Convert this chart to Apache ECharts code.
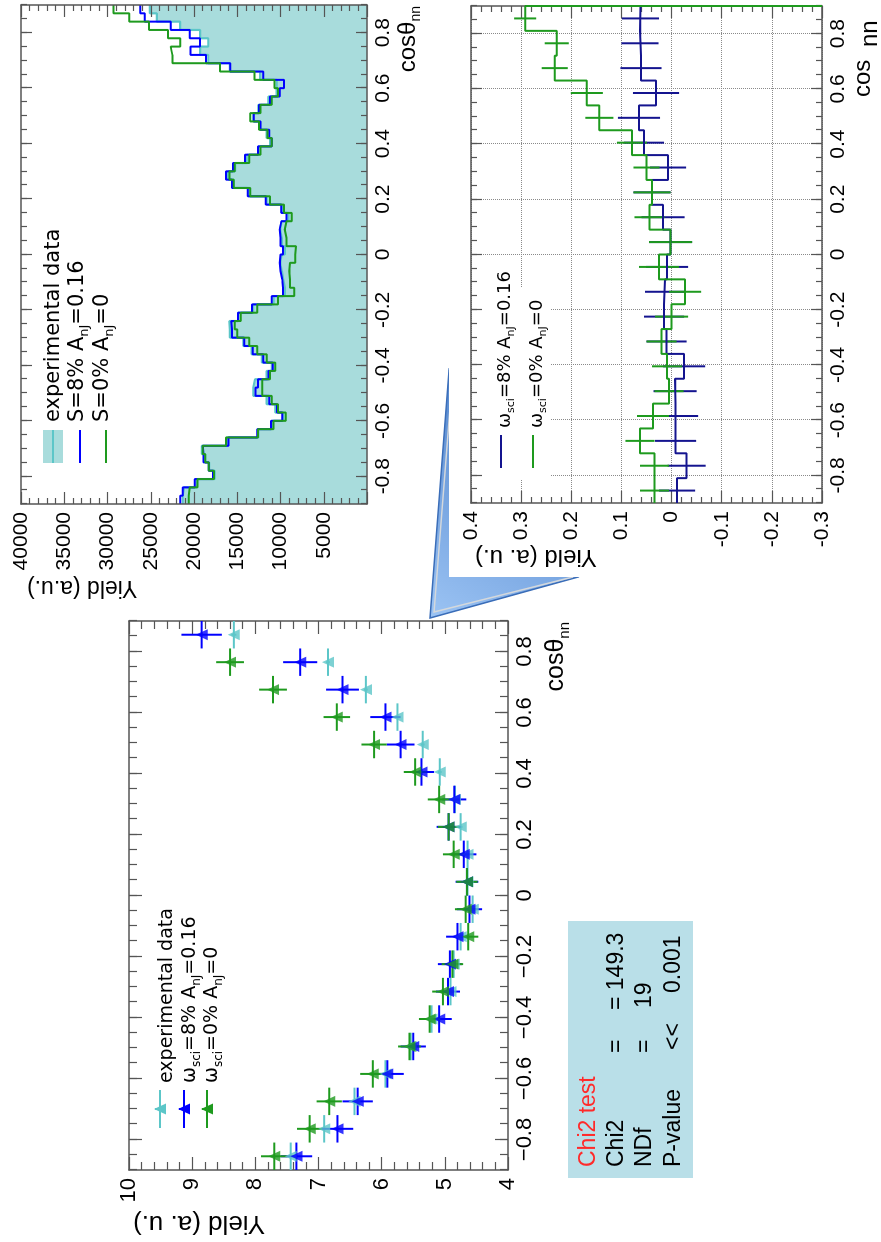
<!DOCTYPE html>
<html><head><meta charset="utf-8">
<script src="https://cdn.jsdelivr.net/npm/echarts@6/dist/echarts.min.js"></script>
<style>
html,body{margin:0;padding:0;background:#fff;overflow:hidden;width:881px;height:1242px;}
#wrap{position:absolute;left:0;top:0;width:1242px;height:881px;transform-origin:0 0;transform:translate(0,1242px) rotate(-90deg);}
#chart{width:1242px;height:881px;}
</style></head><body>
<div id="wrap"><div id="chart"></div></div>
<script>
// ---------- data ----------
const cosMajor = [-0.8, -0.6, -0.4, -0.2, 0, 0.2, 0.4, 0.6, 0.8];
const binCenters20 = [-0.855,-0.765,-0.675,-0.585,-0.495,-0.405,-0.315,-0.225,-0.135,-0.045,0.045,0.135,0.225,0.315,0.405,0.495,0.585,0.675,0.765,0.855];
// left panel: yields (a. u.)
const expYield  = [7.44,6.91,6.43,5.94,5.54,5.21,4.91,4.86,4.75,4.56,4.64,4.64,4.75,4.84,5.08,5.35,5.75,6.25,6.85,8.34];
const expErr    = [0.03,0.03,0.03,0.03,0.03,0.03,0.03,0.03,0.03,0.03,0.03,0.03,0.03,0.03,0.03,0.03,0.03,0.03,0.03,0.04];
const sci8Yield = [7.35,6.70,6.38,5.91,5.50,5.09,4.95,4.92,4.80,4.61,4.65,4.70,4.94,4.85,5.37,5.70,5.94,6.62,7.29,8.85];
const sci8Err   = [0.25,0.25,0.24,0.26,0.20,0.20,0.19,0.19,0.18,0.20,0.18,0.20,0.19,0.19,0.20,0.22,0.24,0.26,0.27,0.32];
const sci0Yield = [7.70,7.14,6.83,6.14,5.56,5.24,5.03,4.88,4.63,4.67,4.65,4.86,4.94,5.09,5.47,6.12,6.71,7.72,8.40,10.77];
const sci0Err   = [0.21,0.20,0.20,0.20,0.18,0.17,0.17,0.17,0.16,0.17,0.17,0.17,0.17,0.18,0.18,0.20,0.21,0.22,0.22,0.26];
// difference panel
const dSci8    = [-0.011,-0.030,-0.008,-0.008,-0.007,-0.025,0.010,0.015,0.013,0.009,0.002,0.017,0.039,0.007,0.055,0.065,0.031,0.061,0.063,0.062];
const dSci8Err = [0.036,0.038,0.041,0.045,0.043,0.042,0.040,0.040,0.040,0.042,0.043,0.043,0.037,0.036,0.040,0.042,0.046,0.041,0.037,0.037];
const dSci0    = [0.034,0.034,0.063,0.037,0.005,0.009,0.020,0.000,-0.027,0.025,0.002,0.044,0.039,0.050,0.079,0.144,0.169,0.233,0.229,0.292];
const dSci0Err = [0.029,0.029,0.029,0.032,0.029,0.030,0.030,0.033,0.032,0.040,0.043,0.030,0.037,0.026,0.030,0.028,0.032,0.026,0.024,0.022];
// fine spectrum panel (60 bins, -0.9..0.9)
const histExp = [21300,21150,19700,17600,18250,18700,19100,16200,12550,11000,
                 9700,10600,11600,13150,12950,11600,11000,12150,13350,14300,
                 15850,15900,14900,13150,10800,9500,9700,9850,10050,9850,
                 9500,9850,10050,9850,9100,9850,11600,13700,15450,16050,
                 15250,13900,12550,11200,11600,12350,13150,12550,11400,10450,
                 10450,12350,15850,18350,19300,18350,19300,21600,24300,25100];
const histS8  = [21600,21300,19900,17800,18300,18900,19000,16000,12700,11100,
                 9800,10400,11300,12900,12600,11400,10900,12000,13200,14200,
                 15600,15700,14900,13300,11000,9700,9800,10000,10100,10000,
                 9700,10000,10100,9900,9300,9900,11700,13800,15600,16300,
                 15500,14100,12600,11000,11300,12300,13100,12500,11200,10100,
                 9600,12000,15800,18600,20400,19300,20500,22700,25700,26200];
const histS0  = [20600,20500,19600,17700,18300,18700,19000,16300,12600,10800,
                 9400,10300,11000,12100,12100,11200,10600,11600,12700,13600,
                 15000,15300,14600,12700,10300,8400,8900,9000,8900,8300,
                 8200,9300,9500,9300,8700,9600,11200,13500,15400,15900,
                 15300,13600,12300,11000,11500,12500,13500,12300,11000,10300,
                 10700,13000,17000,22500,22700,21600,23000,25200,27500,29300];
const chi2Rows = [["Chi2", "=", "= 149.3"], ["NDf", "=", "19"], ["P-value", "<<", "0.001"]];

// ---------- helpers ----------
const COS_MIN = -0.9, COS_MAX = 0.9, DIFF_MIN = -0.3, DIFF_MAX = 0.4;
const edges20 = Array.from({length: 21}, (_, i) => +(COS_MIN + 0.09 * i).toFixed(3));
const edges60 = Array.from({length: 61}, (_, i) => +(COS_MIN + 0.03 * i).toFixed(3));
function stepData(edges, vals, tail) {
  const d = vals.map((v, i) => [edges[i], v]);
  d.push([edges[edges.length - 1], vals[vals.length - 1]]);
  if (tail !== undefined) d.push([edges[edges.length - 1], tail]);
  return d;
}
const FONT = "'Liberation Sans', Arial, sans-serif";
const LEG = "'DejaVu Sans', sans-serif";
const AXC = '#555';
const C_EXP = '#5cc6c8', C_EXP_FILL = '#a8dcdc', C_BLUE = '#0000ff', C_GREEN = '#1e9a1e', C_NAVY = '#14148f';

function cosAxisSet(gi, o) {
  const line = {show: true, onZero: false, lineStyle: {color: AXC, width: 1.5}};
  const ts = {color: AXC, width: 1.2};
  const common = {type: 'value', gridIndex: gi, min: COS_MIN, max: COS_MAX, z: o.z || 0};
  return [
    Object.assign({}, common, {position: 'bottom', axisLine: line,
      axisTick: {show: true, inside: true, length: o.maj, customValues: cosMajor, lineStyle: ts},
      axisLabel: {show: true, customValues: cosMajor, margin: o.margin, fontSize: o.fs, fontFamily: FONT, color: '#000', formatter: o.fmt},
      splitLine: o.grid ? {show: true, lineStyle: {color: '#8a8a8a', type: 'dotted', width: 1}} : {show: false}}),
    Object.assign({}, common, {position: 'bottom', interval: 0.05, axisLine: {show: false, onZero: false},
      axisTick: {show: true, inside: true, length: o.min, lineStyle: ts}, axisLabel: {show: false}, splitLine: {show: false}}),
    Object.assign({}, common, {position: 'top', axisLine: line,
      axisTick: {show: true, inside: true, length: o.maj, customValues: cosMajor, lineStyle: ts}, axisLabel: {show: false}, splitLine: {show: false}}),
    Object.assign({}, common, {position: 'top', interval: 0.05, axisLine: {show: false, onZero: false},
      axisTick: {show: true, inside: true, length: o.min, lineStyle: ts}, axisLabel: {show: false}, splitLine: {show: false}})
  ];
}
function yAxisSet(gi, o) {
  const line = {show: true, onZero: false, lineStyle: {color: AXC, width: 1.5}};
  const ts = {color: AXC, width: 1.2};
  const common = {type: 'value', gridIndex: gi, min: o.lo, max: o.hi, interval: o.interval, z: o.z || 0, axisLine: line,
    axisTick: {show: true, inside: true, length: o.maj, lineStyle: ts},
    minorTick: {show: true, splitNumber: 5, length: o.min, lineStyle: ts}};
  return [
    Object.assign({}, common, {position: 'left',
      axisLabel: {show: true, margin: o.margin, fontSize: o.fs, fontFamily: FONT, color: '#000', showMinLabel: o.showMin, showMaxLabel: true, formatter: o.fmt},
      splitLine: o.grid ? {show: true, lineStyle: {color: '#8a8a8a', type: 'dotted', width: 1}} : {show: false}}),
    Object.assign({}, common, {position: 'right', axisLabel: {show: false}, splitLine: {show: false}})
  ];
}
function errSeries(name, xi, yi, centers, vals, errs, halfW, color, lw) {
  return {
    type: 'custom', name: name, xAxisIndex: xi, yAxisIndex: yi, clip: true, z: 3,
    data: centers.map((c, i) => [c, vals[i], errs[i]]),
    renderItem: function (params, api) {
      const x = api.value(0), y = api.value(1), e = api.value(2);
      const ch = [];
      if (halfW > 0) {
        const a = api.coord([x - halfW, y]), b = api.coord([x + halfW, y]);
        ch.push({type: 'line', shape: {x1: a[0], y1: a[1], x2: b[0], y2: b[1]}, style: {stroke: color, lineWidth: lw}});
      }
      const c = api.coord([x, y - e]), d = api.coord([x, y + e]);
      ch.push({type: 'line', shape: {x1: c[0], y1: c[1], x2: d[0], y2: d[1]}, style: {stroke: color, lineWidth: lw}});
      return {type: 'group', children: ch};
    }
  };
}
function markerSeries(name, centers, vals, color) {
  return {type: 'scatter', name: name, xAxisIndex: 0, yAxisIndex: 0, clip: true, z: 4,
    data: centers.map((c, i) => [c, vals[i]]), symbol: 'triangle', symbolSize: [11, 12], itemStyle: {color: color}};
}
const minusFmt = v => String(v).replace('-', '\u2212');
const plainFmt = v => String(v);
function richText(fs, sub) {
  return {
    n: {fontSize: fs, fontFamily: LEG, fill: '#000', color: '#000', lineHeight: Math.round(fs * 1.3), verticalAlign: 'middle'},
    s: {fontSize: sub, fontFamily: LEG, fill: '#000', color: '#000', lineHeight: sub, verticalAlign: 'bottom'}
  };
}
function txt(x, y, text, fs, extra) {
  return Object.assign({type: 'text', x: x, y: y, z: 20,
    style: Object.assign({text: text, fontSize: fs, fontFamily: FONT, fill: '#000', align: 'left', verticalAlign: 'middle'}, (extra && extra.style) || {})},
    extra && extra.rotation ? {rotation: extra.rotation} : {});
}

// ---------- layout (unrotated frame, 1242 x 881) ----------
const grids = [
  {left: 72, top: 129, width: 549, height: 379},   // main points panel
  {left: 738, top: 21, width: 499, height: 346},   // fine spectrum
  {left: 739, top: 471, width: 497, height: 351}   // difference
];

const xAxes = [].concat(
  cosAxisSet(0, {maj: 13, min: 8, margin: 6, fs: 22, fmt: minusFmt}),
  cosAxisSet(1, {maj: 11, min: 6, margin: 6, fs: 21, z: 5, fmt: plainFmt}),
  cosAxisSet(2, {maj: 11, min: 6, margin: 6, fs: 21, grid: true, fmt: plainFmt})
);
const yAxes = [].concat(
  yAxisSet(0, {lo: 4, hi: 10, interval: 1, maj: 13, min: 8, margin: 8, fs: 22, showMin: true, fmt: plainFmt}),
  yAxisSet(1, {lo: 0, hi: 40000, interval: 5000, maj: 12, min: 6, margin: 8, fs: 21, showMin: false, z: 5, fmt: plainFmt}),
  yAxisSet(2, {lo: DIFF_MIN, hi: DIFF_MAX, interval: 0.1, maj: 12, min: 6, margin: 8, fs: 21, showMin: true, grid: true, fmt: plainFmt})
);

const series = [
  // main panel
  errSeries('exp err', 0, 0, binCenters20, expYield, expErr, 0.045, C_EXP, 2),
  errSeries('sci8 err', 0, 0, binCenters20, sci8Yield, sci8Err, 0.045, C_BLUE, 2),
  errSeries('sci0 err', 0, 0, binCenters20, sci0Yield, sci0Err, 0.045, C_GREEN, 2),
  markerSeries('experimental data', binCenters20, expYield, C_EXP),
  markerSeries('sci=8%', binCenters20, sci8Yield, C_BLUE),
  markerSeries('sci=0%', binCenters20, sci0Yield, C_GREEN),
  // fine spectrum
  {type: 'line', name: 'exp hist', xAxisIndex: 4, yAxisIndex: 2, step: 'end', symbol: 'none', z: 2,
   data: stepData(edges60, histExp), lineStyle: {color: C_EXP, width: 2.2}, areaStyle: {color: C_EXP_FILL, opacity: 1, origin: 'start'}},
  {type: 'line', name: 'S8 hist', xAxisIndex: 4, yAxisIndex: 2, step: 'end', symbol: 'none', z: 3,
   data: stepData(edges60, histS8), lineStyle: {color: C_BLUE, width: 2}},
  {type: 'line', name: 'S0 hist', xAxisIndex: 4, yAxisIndex: 2, step: 'end', symbol: 'none', z: 4,
   data: stepData(edges60, histS0), lineStyle: {color: C_GREEN, width: 2}},
  // difference
  {type: 'line', name: 'd8', xAxisIndex: 8, yAxisIndex: 4, step: 'end', symbol: 'none', z: 3,
   data: stepData(edges20, dSci8), lineStyle: {color: C_NAVY, width: 2}},
  {type: 'line', name: 'd0', xAxisIndex: 8, yAxisIndex: 4, step: 'end', symbol: 'none', z: 4,
   data: stepData(edges20, dSci0, DIFF_MIN), lineStyle: {color: C_GREEN, width: 2}},
  errSeries('d8 err', 8, 4, binCenters20, dSci8, dSci8Err, 0, C_NAVY, 2),
  errSeries('d0 err', 8, 4, binCenters20, dSci0, dSci0Err, 0, C_GREEN, 2)
];

// ---------- graphics: callout, panels, legends, titles ----------
const graphics = [];
// callout arrow (beneath the white inset panel)
graphics.push({type: 'polygon', z: -20, shape: {points: [[624, 430], [872, 449], [665, 578]]},
  style: {fill: new echarts.graphic.LinearGradient(0, 0, 1, 1, [{offset: 0, color: '#9cc4f4'}, {offset: 1, color: '#3e74c2'}]), stroke: '#3a6db8', lineWidth: 1.5}});
graphics.push({type: 'polyline', z: -19, shape: {points: [[872, 453], [630, 434], [665, 573]]},
  style: {stroke: '#d4d8dc', lineWidth: 1.5, fill: null}});
graphics.push({type: 'rect', z: -10, shape: {x: 665, y: 449, width: 577, height: 432}, style: {fill: '#ffffff'}});
// legend background in difference panel
graphics.push({type: 'rect', z: 1, shape: {x: 762, y: 483, width: 193, height: 67}, style: {fill: '#ffffff'}});
// chi2 box
graphics.push({type: 'rect', z: 1, shape: {x: 64, y: 568, width: 257, height: 125}, style: {fill: '#b9dfe8'}});
graphics.push(txt(75, 589, 'Chi2 test', 23, {style: {fill: '#ff2a2a'}}));
const chiV = [617, 645, 674], chiCol = [[75, 189, 232], [75, 189, 234], [75, 192, 249]];
chi2Rows.forEach((r, i) => r.forEach((t, j) => graphics.push(txt(chiCol[i][j], chiV[i], t, 23))));

// main panel legend
const legMain = [
  {v: 160, tv: 167, color: C_EXP, text: '{n|experimental data}'},
  {v: 184, tv: 190, color: C_BLUE, text: '{n|\u03c9}{s|sci}{n|=8% A}{s|nJ}{n|=0.16}'},
  {v: 207, tv: 212, color: C_GREEN, text: '{n|\u03c9}{s|sci}{n|=0% A}{s|nJ}{n|=0}'}
];
legMain.forEach(r => {
  graphics.push({type: 'line', z: 20, shape: {x1: 114, y1: r.v, x2: 152, y2: r.v}, style: {stroke: r.color, lineWidth: 2}});
  graphics.push({type: 'line', z: 20, shape: {x1: 133, y1: r.v - 5, x2: 133, y2: r.v + 5}, style: {stroke: r.color, lineWidth: 2}});
  graphics.push({type: 'polygon', z: 21, shape: {points: [[133, r.v - 6], [127.5, r.v + 6], [138.5, r.v + 6]]}, style: {fill: r.color}});
  graphics.push({type: 'text', x: 159, y: r.tv, z: 20, style: {text: r.text, rich: richText(19, 12), verticalAlign: 'middle', align: 'left'}});
});
// fine spectrum legend
graphics.push({type: 'rect', z: 20, shape: {x: 779, y: 43, width: 33, height: 20}, style: {fill: C_EXP_FILL}});
graphics.push({type: 'line', z: 21, shape: {x1: 779, y1: 53, x2: 812, y2: 53}, style: {stroke: C_EXP, lineWidth: 2}});
graphics.push({type: 'line', z: 20, shape: {x1: 779, y1: 80, x2: 812, y2: 80}, style: {stroke: C_BLUE, lineWidth: 2}});
graphics.push({type: 'line', z: 20, shape: {x1: 779, y1: 106, x2: 812, y2: 106}, style: {stroke: C_GREEN, lineWidth: 2}});
[[54, '{n|experimental data}'], [78, '{n|S=8% A}{s|nJ}{n|=0.16}'], [103, '{n|S=0% A}{s|nJ}{n|=0}']].forEach(r => {
  graphics.push({type: 'text', x: 820, y: r[0], z: 20, style: {text: r[1], rich: richText(21, 13), verticalAlign: 'middle', align: 'left'}});
});
// difference legend
graphics.push({type: 'line', z: 20, shape: {x1: 774, y1: 501, x2: 807, y2: 501}, style: {stroke: C_NAVY, lineWidth: 2}});
graphics.push({type: 'line', z: 20, shape: {x1: 774, y1: 533, x2: 807, y2: 533}, style: {stroke: C_GREEN, lineWidth: 2}});
[[505, '{n|\u03c9}{s|sci}{n|=8% A}{s|nJ}{n|=0.16}'], [537, '{n|\u03c9}{s|sci}{n|=0% A}{s|nJ}{n|=0}']].forEach(r => {
  graphics.push({type: 'text', x: 814, y: r[0], z: 20, style: {text: r[1], rich: richText(18, 11), verticalAlign: 'middle', align: 'left'}});
});
// axis titles
graphics.push(txt(19, 133, 'Yield (a. u.)', 26, {rotation: Math.PI / 2, style: {align: 'right'}}));
graphics.push(txt(655, 27, 'Yield (a.u.)', 23, {rotation: Math.PI / 2, style: {align: 'right'}}));
graphics.push(txt(685, 475, 'Yield (a. u.)', 24, {rotation: Math.PI / 2, style: {align: 'right'}}));
const cosRich = fs => ({n: {fontSize: fs, fontFamily: FONT, fill: '#000', color: '#000', lineHeight: Math.round(fs * 1.3), verticalAlign: 'middle'},
                        s: {fontSize: Math.round(fs * 0.6), fontFamily: FONT, fill: '#000', color: '#000', lineHeight: Math.round(fs * 0.6), verticalAlign: 'bottom'}});
graphics.push({type: 'text', x: 620, y: 556, z: 20, style: {text: '{n|cos\u03b8}{s|nn}', rich: cosRich(25), align: 'right', verticalAlign: 'middle'}});
graphics.push({type: 'text', x: 1236, y: 408, z: 20, style: {text: '{n|cos\u03b8}{s|nn}', rich: cosRich(24), align: 'right', verticalAlign: 'middle'}});
graphics.push(txt(1145, 863, 'cos', 24));
graphics.push(txt(1195, 870, 'nn', 24));

const option = {
  animation: false,
  backgroundColor: '#ffffff',
  grid: grids,
  xAxis: xAxes,
  yAxis: yAxes,
  series: series,
  graphic: graphics
};
const chart = echarts.init(document.getElementById('chart'), null, {renderer: 'canvas', width: 1242, height: 881});
chart.setOption(option);
</script>
</body></html>
